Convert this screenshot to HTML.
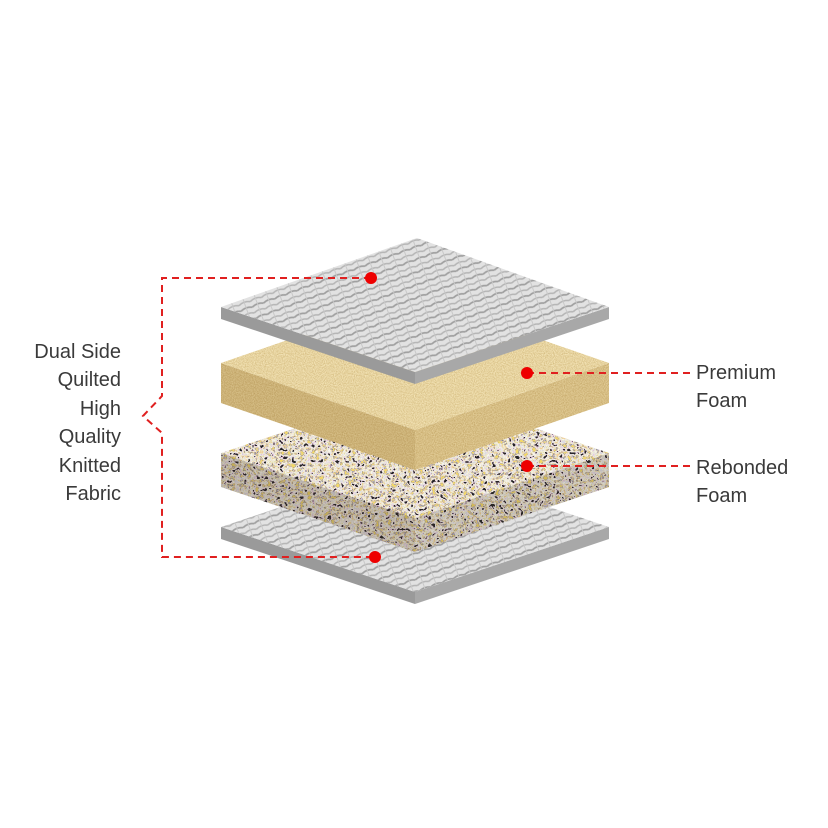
<!DOCTYPE html>
<html><head><meta charset="utf-8"><style>
html,body{margin:0;padding:0;background:#fff;width:828px;height:828px;overflow:hidden}
svg{display:block}
text{font-family:"Liberation Sans",sans-serif;font-size:20px;fill:#3a3a3a}
</style></head><body>
<svg width="828" height="828" viewBox="0 0 828 828" xmlns="http://www.w3.org/2000/svg">
<defs>
<pattern id="knit" width="12" height="12" patternUnits="userSpaceOnUse" patternTransform="rotate(-20)">
<rect width="12" height="12" fill="#e2e2e2"/>
<path d="M0 3 Q6 0 12 3" stroke="#a0a0a0" stroke-width="1.8" fill="none"/>
<path d="M0 9 Q6 6 12 9" stroke="#b5b5b5" stroke-width="1.6" fill="none"/>
<path d="M6 0 L6 12" stroke="#c8c8c8" stroke-width="1"/>
</pattern>
<filter id="grain" x="0" y="0" width="100%" height="100%" color-interpolation-filters="sRGB">
<feTurbulence type="fractalNoise" baseFrequency="0.9" numOctaves="2" seed="3"/>
<feColorMatrix values="0 0 0 0 0.75  0 0 0 0 0.65  0 0 0 0 0.4  0 0 0 0.9 -0.25"/>
<feComposite in2="SourceGraphic" operator="in"/>
<feBlend in2="SourceGraphic" mode="multiply"/>
</filter>
<filter id="confetti" x="0" y="0" width="100%" height="100%" color-interpolation-filters="sRGB">
<feTurbulence type="fractalNoise" baseFrequency="0.25" numOctaves="2" seed="7"/>
<feColorMatrix values="2.2 0 0 0 -0.6  2.2 0 0 0 -0.6  2.2 0 0 0 -0.6  0 0 0 0 1"/>
<feComponentTransfer>
<feFuncR type="discrete" tableValues="0.15 0.9 0.95 0.85 0.93 0.97 0.9 0.95 0.55 0.8 0.95"/>
<feFuncG type="discrete" tableValues="0.15 0.75 0.93 0.85 0.9 0.96 0.88 0.8 0.55 0.75 0.85"/>
<feFuncB type="discrete" tableValues="0.15 0.85 0.9 0.9 0.8 0.94 0.7 0.6 0.55 0.85 0.4"/>
<feFuncA type="table" tableValues="1 1"/>
</feComponentTransfer>
<feComposite in2="SourceGraphic" operator="in"/>
</filter>
</defs>

<!-- bottom sheet -->
<polygon points="221,527 415,592 415,604 221,539" fill="#9a9a9a"/>
<polygon points="415,592 609,527 609,539 415,604" fill="#a8a8a8"/>
<polygon points="415,462 609,527 415,592 221,527" fill="url(#knit)"/>

<!-- rebonded foam -->
<polygon points="221,453 415,518 415,552 221,487" fill="#b8a896" filter="url(#confetti)"/>
<polygon points="415,518 609,453 609,487 415,552" fill="#b8a896" filter="url(#confetti)"/>
<polygon points="221,453 415,518 415,552 221,487" fill="#3a2a20" opacity="0.25"/>
<polygon points="415,518 609,453 609,487 415,552" fill="#3a2a20" opacity="0.18"/>
<polygon points="415,388 609,453 415,518 221,453" fill="#ddd" filter="url(#confetti)"/>

<!-- premium foam -->
<polygon points="221,363 415,430 415,470 221,403" fill="#d7bf87" filter="url(#grain)"/>
<polygon points="415,430 609,363 609,403 415,470" fill="#e2cc96" filter="url(#grain)"/>
<polygon points="415,296 609,363 415,430 221,363" fill="#f3e3b5" filter="url(#grain)"/>

<!-- top sheet -->
<polygon points="221,307 415,372 415,384 221,319" fill="#9a9a9a"/>
<polygon points="415,372 609,307 609,319 415,384" fill="#a8a8a8"/>
<polygon points="417,238 609,307 415,372 221,307" fill="url(#knit)"/>

<!-- callouts -->
<g stroke="#e02020" stroke-width="2" fill="none" stroke-dasharray="7,5">
<polyline points="371,278 162,278 162,396 143,416 162,433 162,557 375,557"/>
<line x1="527" y1="373" x2="690" y2="373"/>
<line x1="527" y1="466" x2="690" y2="466"/>
</g>
<g fill="#ee0000">
<circle cx="371" cy="278" r="6"/>
<circle cx="375" cy="557" r="6"/>
<circle cx="527" cy="373" r="6"/>
<circle cx="527" cy="466" r="6"/>
</g>

<g text-anchor="end">
<text x="121" y="358">Dual Side</text>
<text x="121" y="386">Quilted</text>
<text x="121" y="415">High</text>
<text x="121" y="443">Quality</text>
<text x="121" y="472">Knitted</text>
<text x="121" y="500">Fabric</text>
</g>
<text x="696" y="379">Premium</text>
<text x="696" y="407">Foam</text>
<text x="696" y="474">Rebonded</text>
<text x="696" y="502">Foam</text>
</svg>
</body></html>
